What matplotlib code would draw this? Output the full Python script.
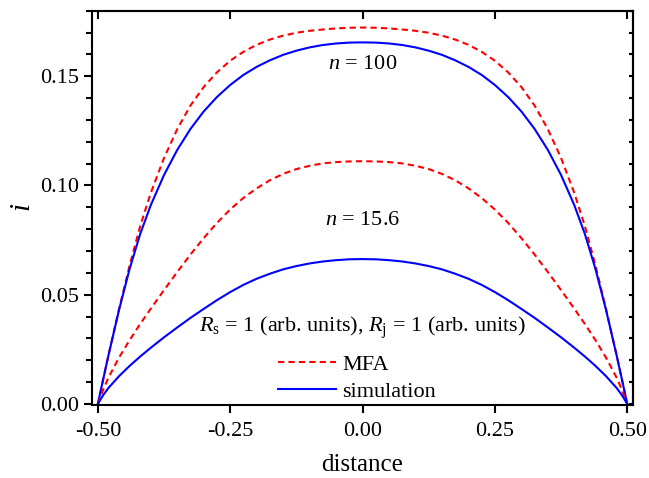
import numpy as np
import matplotlib
matplotlib.use('Agg')
import matplotlib.pyplot as plt

# distance along the junction
distance = [-0.5, -0.49, -0.48, -0.46, -0.44, -0.42, -0.40, -0.375, -0.35,
            -0.325, -0.30, -0.275, -0.25, -0.225, -0.20, -0.175, -0.15,
            -0.125, -0.10, -0.075, -0.05, -0.025, 0.0,
            0.025, 0.05, 0.075, 0.10, 0.125, 0.15, 0.175, 0.20, 0.225,
            0.25, 0.275, 0.30, 0.325, 0.35, 0.375, 0.40, 0.42, 0.44, 0.46,
            0.48, 0.49, 0.5]

# n = 100
mfa_100 = [0.0, 0.0112, 0.0222, 0.0434, 0.0634, 0.0814, 0.0966, 0.1126,
           0.1258, 0.1366, 0.1451, 0.1518, 0.1571, 0.1612, 0.1644, 0.1668,
           0.1686, 0.1699, 0.1708, 0.1714, 0.1719, 0.1722, 0.1723,
           0.1722, 0.1719, 0.1714, 0.1708, 0.1699, 0.1686, 0.1668, 0.1644,
           0.1612, 0.1571, 0.1518, 0.1451, 0.1366, 0.1258, 0.1126, 0.0966,
           0.0814, 0.0634, 0.0434, 0.0222, 0.0112, 0.0]
sim_100 = [0.0, 0.0112, 0.0222, 0.0430, 0.0618, 0.0778, 0.0910, 0.1048,
           0.1163, 0.1259, 0.1339, 0.1405, 0.1460, 0.1506, 0.1543, 0.1573,
           0.1598, 0.1617, 0.1632, 0.1643, 0.1650, 0.1654, 0.1655,
           0.1654, 0.1650, 0.1643, 0.1632, 0.1617, 0.1598, 0.1573, 0.1543,
           0.1506, 0.1460, 0.1405, 0.1339, 0.1259, 0.1163, 0.1048, 0.0910,
           0.0778, 0.0618, 0.0430, 0.0222, 0.0112, 0.0]

# n = 15.6
mfa_156 = [0.0, 0.0065, 0.0120, 0.0212, 0.0292, 0.0366, 0.0436, 0.0521,
           0.0604, 0.0684, 0.0759, 0.0829, 0.0890, 0.0943, 0.0987, 0.1024,
           0.1053, 0.1075, 0.1090, 0.1101, 0.1107, 0.1110, 0.1111,
           0.1110, 0.1107, 0.1101, 0.1090, 0.1075, 0.1053, 0.1024, 0.0987,
           0.0943, 0.0890, 0.0829, 0.0759, 0.0684, 0.0604, 0.0521, 0.0436,
           0.0366, 0.0292, 0.0212, 0.0120, 0.0065, 0.0]
sim_156 = [0.0, 0.0040, 0.0073, 0.0127, 0.0174, 0.0217, 0.0257, 0.0305,
           0.0350, 0.0394, 0.0435, 0.0475, 0.0512, 0.0545, 0.0573, 0.0596,
           0.0616, 0.0631, 0.0643, 0.0652, 0.0658, 0.0662, 0.0663,
           0.0662, 0.0658, 0.0652, 0.0643, 0.0631, 0.0616, 0.0596, 0.0573,
           0.0545, 0.0512, 0.0475, 0.0435, 0.0394, 0.0350, 0.0305, 0.0257,
           0.0217, 0.0174, 0.0127, 0.0073, 0.0040, 0.0]

x_ticks = [-0.50, -0.25, 0.00, 0.25, 0.50]
y_ticks = [0.00, 0.05, 0.10, 0.15]

plt.rcParams['font.family'] = 'Liberation Serif'
plt.rcParams['mathtext.fontset'] = 'custom'
plt.rcParams['mathtext.rm'] = 'Liberation Serif'
plt.rcParams['mathtext.it'] = 'Liberation Serif:italic'
plt.rcParams['font.size'] = 16

red = '#ff0000'
blue = '#0000ff'
lw = 1.5

fig = plt.figure(figsize=(6.49, 4.78), dpi=100)
ax = fig.add_axes([0.1418, 0.1527, 0.8328, 0.8249])

ax.plot(distance, mfa_100, color=red, lw=lw, dashes=(3, 2), label='MFA')
ax.plot(distance, sim_100, color=blue, lw=lw, label='simulation')
ax.plot(distance, mfa_156, color=red, lw=lw, dashes=(3, 2))
ax.plot(distance, sim_156, color=blue, lw=lw)

ax.set_xlim(-0.511, 0.51)
ax.set_ylim(-0.0005, 0.18)
ax.set_xticks(x_ticks)
ax.set_xticklabels(['{:.2f}'.format(v) for v in x_ticks])
ax.set_yticks(y_ticks)
ax.set_yticklabels(['{:.2f}'.format(v) for v in y_ticks])
ax.yaxis.set_minor_locator(matplotlib.ticker.MultipleLocator(0.01))

for sp in ax.spines.values():
    sp.set_linewidth(1.5)

ax.tick_params(axis='both', which='major', direction='out', length=5.5,
               width=1.5, labelsize=16, top=False, right=False)
ax.tick_params(axis='y', which='minor', direction='out', length=4.5,
               width=1.5, right=False)
ax.tick_params(axis='x', which='major', pad=7)

# inward ticks on the top and right axes
top = ax.secondary_xaxis('top')
top.set_xticks(x_ticks)
top.tick_params(direction='in', length=5.5, width=1.5, labeltop=False)
top.spines['top'].set_linewidth(1.5)
right = ax.secondary_yaxis('right')
right.set_yticks(y_ticks)
right.yaxis.set_minor_locator(matplotlib.ticker.MultipleLocator(0.01))
right.tick_params(which='both', direction='in', length=3, width=1.5,
                  labelright=False)
right.spines['right'].set_linewidth(1.5)

ax.set_xlabel('distance', fontsize=18, labelpad=9)
ax.set_ylabel('$i$', fontsize=21, labelpad=3)

ax.text(0.0, 0.1535, '$n$ = 100', ha='center', va='baseline', fontsize=16)
ax.text(0.0, 0.0819, '$n$ = 15.6', ha='center', va='baseline', fontsize=16)
ax.text(0.0, 0.0331,
        r'$R_{\mathrm{s}}$ = 1 (arb. units), $R_{\mathrm{j}}$ = 1 (arb. units)',
        ha='center', va='baseline', fontsize=16)

ax.legend(loc='upper left', bbox_to_anchor=(0.344, 0.128), frameon=False,
          fontsize=16, handlelength=2.6, handletextpad=0.3, labelspacing=0.28,
          borderpad=0, borderaxespad=0)

fig.savefig('out.png', dpi=100)
